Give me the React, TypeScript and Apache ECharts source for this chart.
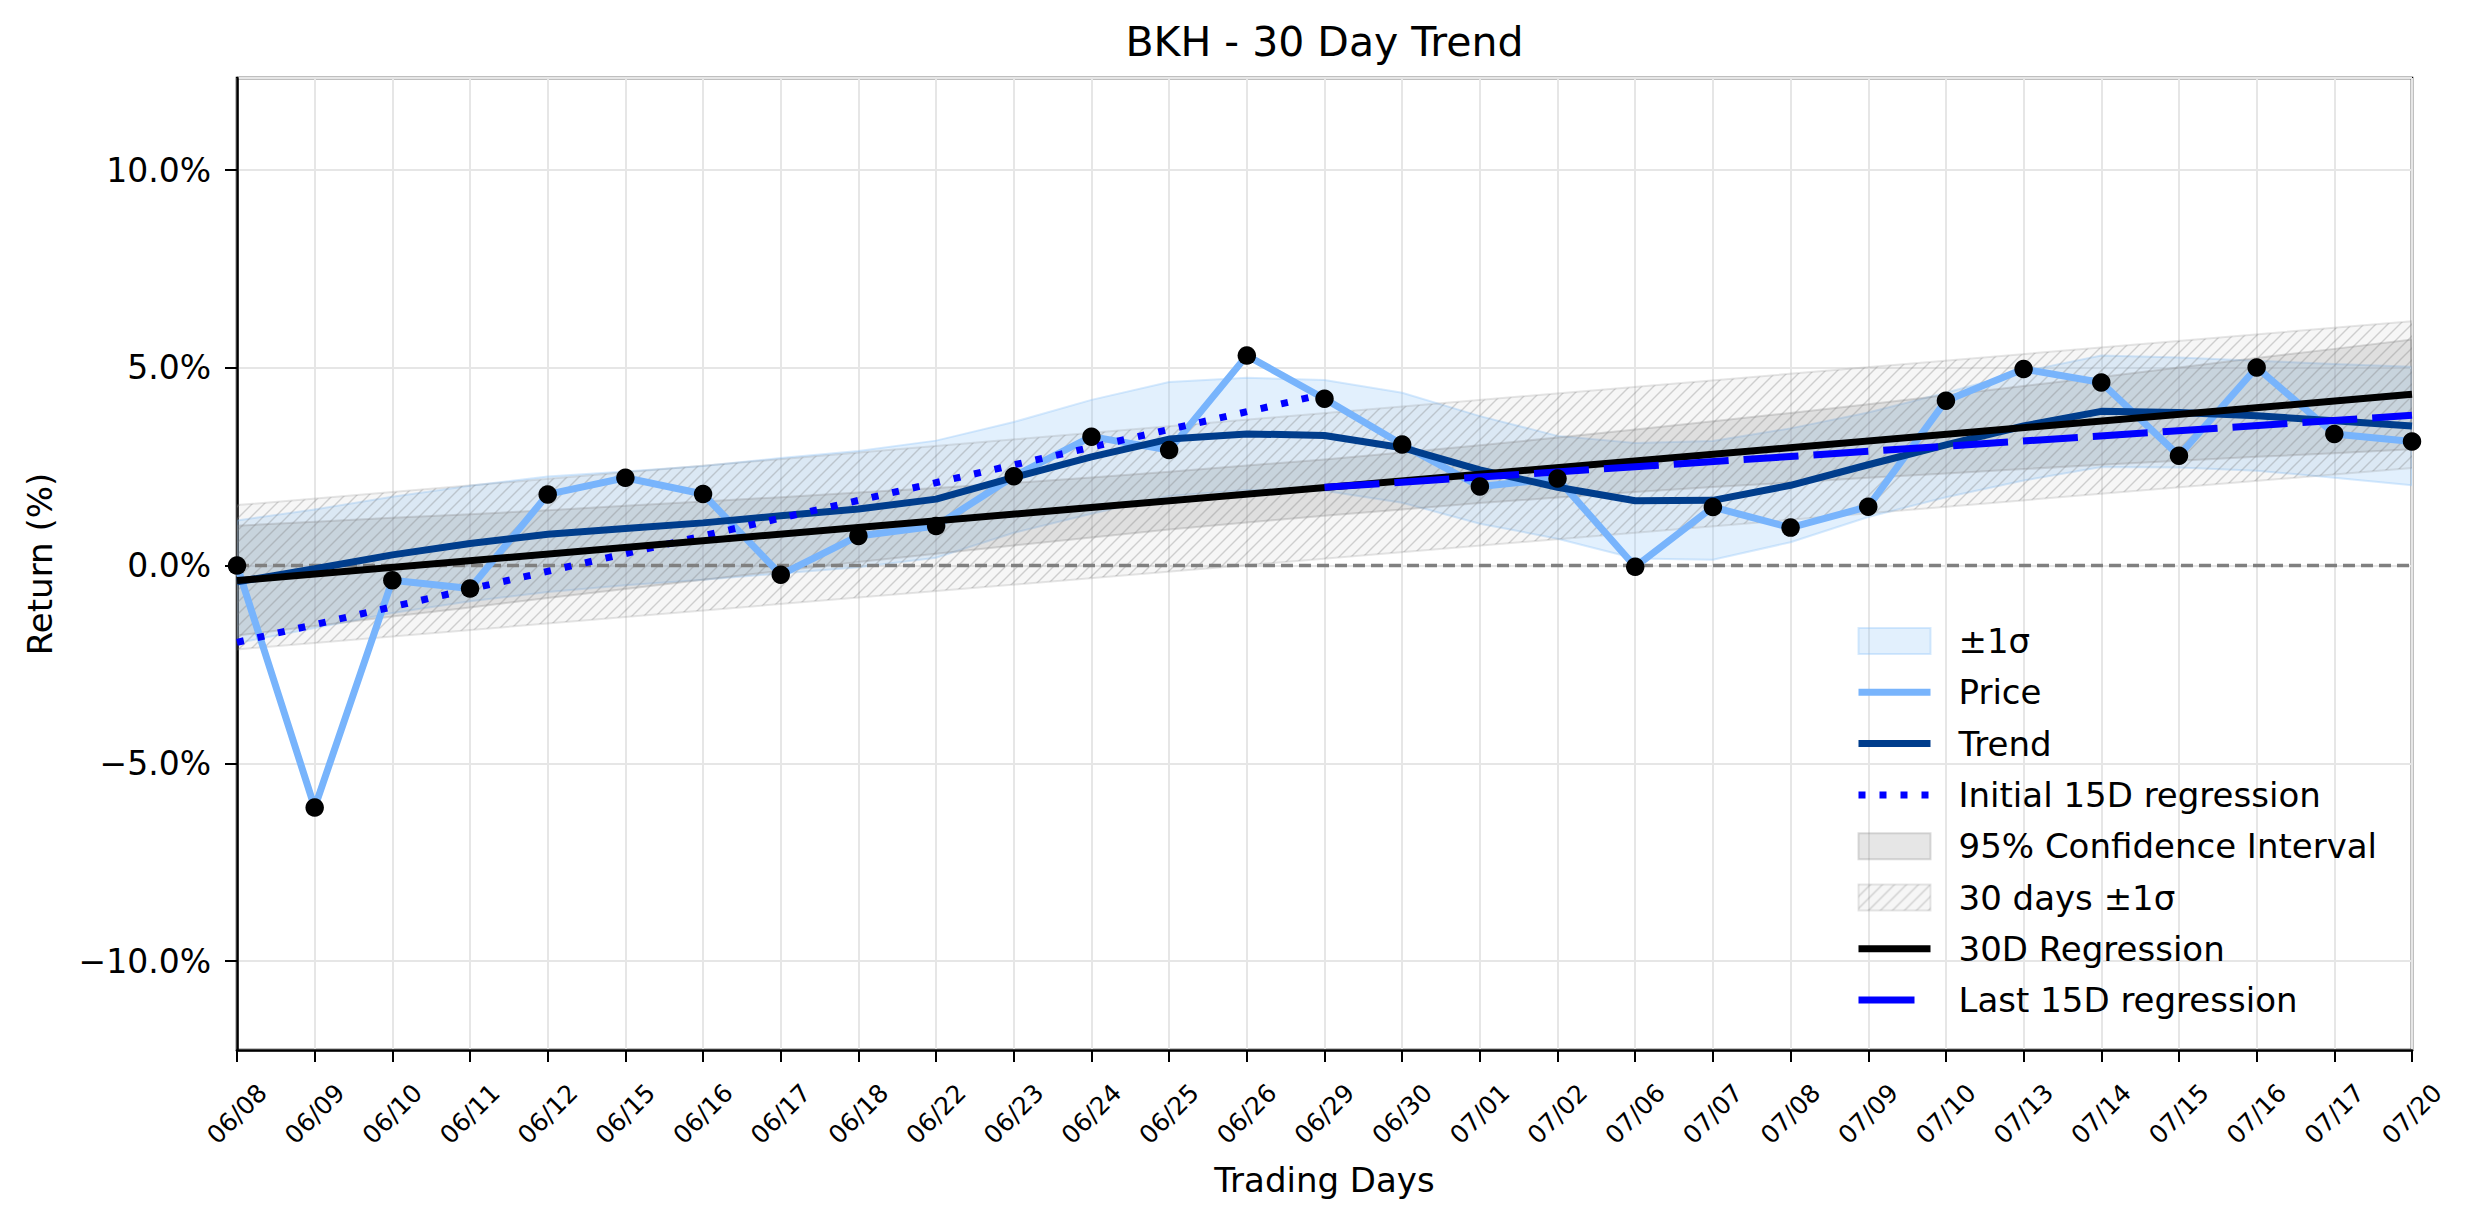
import React, { useEffect, useRef } from 'react';
import * as echarts from 'echarts';

const FONT = 'DejaVu Sans';

const dates = ['06/08', '06/09', '06/10', '06/11', '06/12', '06/15', '06/16', '06/17', '06/18', '06/22', '06/23', '06/24', '06/25', '06/26', '06/29', '06/30', '07/01', '07/02', '07/06', '07/07', '07/08', '07/09', '07/10', '07/13', '07/14', '07/15', '07/16', '07/17', '07/20'];

const price = [0.0, -6.12, -0.37, -0.58, 1.8, 2.22, 1.81, -0.23, 0.75, 1.0, 2.26, 3.26, 2.92, 5.31, 4.22, 3.06, 2.0, 2.2, -0.03, 1.48, 0.96, 1.49, 4.17, 4.97, 4.63, 2.78, 5.01, 3.33, 3.14];

const trend = [-0.41, -0.08, 0.27, 0.56, 0.79, 0.94, 1.08, 1.26, 1.43, 1.68, 2.23, 2.75, 3.2, 3.33, 3.29, 2.98, 2.42, 1.98, 1.64, 1.65, 2.03, 2.55, 3.05, 3.53, 3.9, 3.87, 3.79, 3.66, 3.53];

const sigma = [1.55, 1.5, 1.47, 1.46, 1.46, 1.44, 1.44, 1.46, 1.47, 1.48, 1.4, 1.44, 1.44, 1.42, 1.4, 1.39, 1.36, 1.3, 1.46, 1.5, 1.44, 1.32, 1.32, 1.38, 1.41, 1.39, 1.39, 1.44, 1.5];

const ciUpper = [1.01, 1.11, 1.21, 1.3, 1.4, 1.51, 1.62, 1.73, 1.85, 1.96, 2.09, 2.23, 2.37, 2.53, 2.68, 2.86, 3.04, 3.24, 3.44, 3.65, 3.86, 4.08, 4.31, 4.54, 4.77, 5.01, 5.25, 5.48, 5.72];
const ciLower = [-1.77, -1.53, -1.29, -1.06, -0.82, -0.59, -0.36, -0.13, 0.09, 0.3, 0.51, 0.71, 0.91, 1.09, 1.26, 1.42, 1.58, 1.72, 1.86, 1.99, 2.1, 2.22, 2.33, 2.44, 2.55, 2.65, 2.75, 2.84, 2.94];

// 30 days ±1σ band: straight edges, [x, y] at both ends
const band30Upper = [[0, 1.53], [28, 6.18]];
const band30Lower = [[0, -2.12], [28, 2.47]];

const reg30 = [[0, -0.38], [28, 4.33]];
const initial15 = [[0, -1.94], [14, 4.34]];
const last15 = [[14, 1.98], [28, 3.8]];
const zeroLine = [[0, 0], [28, 0]];

const yMin = -12.25;
const yMax = 12.33;

const COLORS = {
  sigmaFill: 'rgba(140,195,248,0.25)',
  sigmaEdge: 'rgba(140,195,248,0.35)',
  price: '#78b4fc',
  trend: '#003d8c',
  blue: '#0000ff',
  ciFill: 'rgba(128,128,128,0.2)',
  ciEdge: 'rgba(128,128,128,0.28)',
  hatchEdge: 'rgba(128,128,128,0.2)',
  grid: '#e6e6e6',
};

const LW = 7;

function makeHatch() {
  const s = 12;
  const c = document.createElement('canvas');
  c.width = s;
  c.height = s;
  const ctx = c.getContext('2d')!;
  ctx.fillStyle = 'rgba(128,128,128,0.07)';
  ctx.fillRect(0, 0, s, s);
  ctx.strokeStyle = 'rgba(120,120,120,0.32)';
  ctx.lineWidth = 1.4;
  ctx.beginPath();
  ctx.moveTo(-2, s + 2);
  ctx.lineTo(s + 2, -2);
  ctx.moveTo(-2, 2);
  ctx.lineTo(2, -2);
  ctx.moveTo(s - 2, s + 2);
  ctx.lineTo(s + 2, s - 2);
  ctx.stroke();
  return { image: c, repeat: 'repeat', imageWidth: s, imageHeight: s };
}

function bandSeries(name: string, upper: number[][], lower: number[][], fill: any, edge: string) {
  return {
    name,
    type: 'custom',
    coordinateSystem: 'cartesian2d',
    z: 1,
    silent: true,
    clip: true,
    data: [[0, 0]],
    encode: { x: 0, y: 1 },
    renderItem: (params: any, api: any) => {
      const pts: number[][] = [];
      for (let i = 0; i < upper.length; i++) pts.push(api.coord(upper[i]));
      for (let i = lower.length - 1; i >= 0; i--) pts.push(api.coord(lower[i]));
      return {
        type: 'polygon',
        shape: { points: pts },
        style: { fill, stroke: edge, lineWidth: 2 },
      };
    },
  };
}

export default function App() {
  const ref = useRef<HTMLDivElement>(null);

  useEffect(() => {
    if (!ref.current) return;
    const chart = echarts.init(ref.current, undefined, { renderer: 'svg' });
    const hatch = makeHatch();

    const sigmaUpper = trend.map((t, i) => [i, t + sigma[i]]);
    const sigmaLower = trend.map((t, i) => [i, t - sigma[i]]);
    const ciU = ciUpper.map((v, i) => [i, v]);
    const ciL = ciLower.map((v, i) => [i, v]);

    const lineSeries = (name: string, data: number[][], color: string, width: number, type: any, z = 3) => ({
      name,
      type: 'line',
      data,
      symbol: 'none',
      showSymbol: false,
      z,
      silent: true,
      lineStyle: { color, width, type, cap: 'butt' },
      itemStyle: { color },
    });

    const lineLegend = (name: string, extra: any = {}) => ({
      name,
      itemStyle: { opacity: 0, color: 'rgba(0,0,0,0)', borderWidth: 0 },
      lineStyle: { width: LW, ...extra },
    });

    const textBase = { fontFamily: FONT, color: '#000' };

    const option: any = {
      animation: false,
      backgroundColor: '#ffffff',
      textStyle: { fontFamily: FONT },
      title: {
        text: 'BKH - 30 Day Trend',
        left: 1324.5,
        top: 21,
        padding: 0,
        textAlign: 'center',
        textVerticalAlign: 'top',
        textStyle: { ...textBase, fontSize: 41, fontWeight: 'normal' },
      },
      grid: {
        left: 237,
        top: 78,
        width: 2175,
        height: 972,
        show: true,
        borderColor: '#000',
        borderWidth: 2.5,
        backgroundColor: 'transparent',
      },
      legend: {
        orient: 'vertical',
        left: 1855,
        top: 624,
        padding: 0,
        itemGap: 17.3,
        itemWidth: 72,
        itemHeight: 26,
        selectedMode: false,
        textStyle: { ...textBase, fontSize: 34, lineHeight: 34, padding: [0, 0, 0, 23] },
        data: [
          { name: '±1σ', icon: 'rect', itemStyle: { color: COLORS.sigmaFill, borderColor: COLORS.sigmaEdge, borderWidth: 2 } },
          lineLegend('Price'),
          lineLegend('Trend'),
          lineLegend('Initial 15D regression'),
          { name: '95% Confidence Interval', icon: 'rect', itemStyle: { color: COLORS.ciFill, borderColor: COLORS.ciEdge, borderWidth: 2 } },
          { name: '30 days ±1σ', icon: 'rect', itemStyle: { color: hatch, borderColor: COLORS.hatchEdge, borderWidth: 2 } },
          lineLegend('30D Regression'),
          lineLegend('Last 15D regression', { type: [56, 100] }),
        ],
      },
      xAxis: {
        type: 'value',
        min: 0,
        max: 28,
        minInterval: 1,
        maxInterval: 1,
        splitNumber: 28,
        name: 'Trading Days',
        nameLocation: 'middle',
        nameGap: 113,
        nameTextStyle: { ...textBase, fontSize: 34 },
        axisLine: { show: true, onZero: false, lineStyle: { color: '#000', width: 2.5 } },
        axisTick: { show: true, length: 12, lineStyle: { color: '#000', width: 2 } },
        axisLabel: {
          formatter: (v: number) => dates[Math.round(v)] ?? '',
          rotate: 45,
          align: 'center',
          verticalAlign: 'middle',
          margin: 64,
          fontSize: 25,
          ...textBase,
        },
        splitLine: { show: true, lineStyle: { color: COLORS.grid, width: 2 } },
      },
      yAxis: {
        type: 'value',
        min: yMin,
        max: yMax,
        minInterval: 5,
        maxInterval: 5,
        splitNumber: 5,
        name: 'Return (%)',
        nameLocation: 'middle',
        nameGap: 180,
        nameRotate: 90,
        nameTextStyle: { ...textBase, fontSize: 34 },
        axisLine: { show: true, onZero: false, lineStyle: { color: '#000', width: 2.5 } },
        axisTick: { show: true, length: 12, lineStyle: { color: '#000', width: 2 } },
        axisLabel: {
          formatter: (v: number) => (v < 0 ? '\u2212' : '') + Math.abs(v).toFixed(1) + '%',
          showMinLabel: false,
          showMaxLabel: false,
          margin: 26,
          fontSize: 33,
          ...textBase,
        },
        splitLine: { show: true, lineStyle: { color: COLORS.grid, width: 2 } },
      },
      series: [
        bandSeries('±1σ', sigmaUpper, sigmaLower, COLORS.sigmaFill, COLORS.sigmaEdge),
        bandSeries('95% Confidence Interval', ciU, ciL, COLORS.ciFill, COLORS.ciEdge),
        bandSeries('30 days ±1σ', band30Upper, band30Lower, hatch, COLORS.hatchEdge),
        lineSeries('_zero', zeroLine, '#808080', 3.5, [12, 6], 2),
        lineSeries('Price', price.map((v, i) => [i, v]), COLORS.price, LW, 'solid'),
        lineSeries('Trend', trend.map((v, i) => [i, v]), COLORS.trend, LW, 'solid'),
        lineSeries('Initial 15D regression', initial15, COLORS.blue, LW, [7, 14]),
        lineSeries('30D Regression', reg30, '#000000', LW, 'solid'),
        lineSeries('Last 15D regression', last15, COLORS.blue, LW, [55, 15]),
        {
          name: '_dots',
          type: 'scatter',
          data: price.map((v, i) => [i, v]),
          symbol: 'circle',
          symbolSize: 18.5,
          z: 6,
          silent: true,
          clip: true,
          itemStyle: { color: '#000000', opacity: 1 },
        },
      ],
    };

    chart.setOption(option);
    return () => {
      chart.dispose();
    };
  }, []);

  return (
    <div
      ref={ref}
      style={{ position: 'fixed', left: 0, top: 0, width: 2474, height: 1224, background: '#fff' }}
    />
  );
}
